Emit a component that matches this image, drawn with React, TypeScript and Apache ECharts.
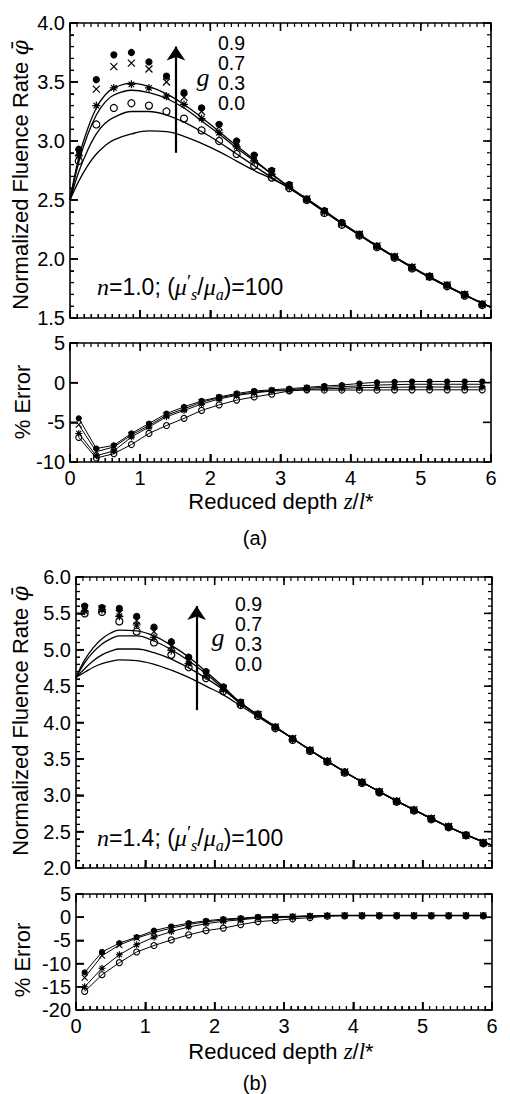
import React, { useEffect, useRef } from "react";
import * as echarts from "echarts";

// ---------- data ----------
const zMC = [0.125, 0.375, 0.625, 0.875, 1.125, 1.375, 1.625, 1.875, 2.125, 2.375, 2.625, 2.875,
  3.125, 3.375, 3.625, 3.875, 4.125, 4.375, 4.625, 4.875, 5.125, 5.375, 5.625, 5.875];
const zLine = [0, 0.125, 0.25, 0.375, 0.5, 0.625, 0.875, 1.125, 1.375, 1.625, 1.875, 2.125, 2.375,
  2.625, 2.875, 3.125, 3.5, 4, 4.5, 5, 5.5, 6];
const gLabels = ["0.9", "0.7", "0.3", "0.0"];

// panel (a): n = 1.0
const aLine09 = [2.5, 2.86, 3.10, 3.28, 3.39, 3.45, 3.49, 3.46, 3.40, 3.31, 3.20, 3.08, 2.96, 2.84, 2.72, 2.61, 2.46, 2.255, 2.065, 1.89, 1.735, 1.59];
const aLine07 = [2.5, 2.82, 3.05, 3.22, 3.33, 3.39, 3.43, 3.41, 3.36, 3.28, 3.17, 3.06, 2.94, 2.83, 2.72, 2.61, 2.46, 2.255, 2.065, 1.89, 1.735, 1.59];
const aLine03 = [2.5, 2.74, 2.92, 3.06, 3.15, 3.20, 3.25, 3.25, 3.22, 3.16, 3.08, 2.99, 2.89, 2.79, 2.69, 2.60, 2.455, 2.25, 2.06, 1.885, 1.73, 1.59];
const aLine00 = [2.5, 2.66, 2.79, 2.89, 2.96, 3.01, 3.06, 3.085, 3.08, 3.04, 2.98, 2.91, 2.83, 2.75, 2.68, 2.60, 2.45, 2.25, 2.06, 1.885, 1.73, 1.59];

const aMC09 = [2.93, 3.52, 3.73, 3.75, 3.67, 3.55, 3.41, 3.28, 3.14, 3.00, 2.88, 2.75, 2.63, 2.51, 2.41, 2.31, 2.21, 2.11, 2.02, 1.93, 1.855, 1.78, 1.70, 1.62];
const aMC07 = [2.90, 3.44, 3.63, 3.66, 3.61, 3.50, 3.37, 3.25, 3.12, 2.98, 2.86, 2.74, 2.62, 2.51, 2.40, 2.30, 2.21, 2.11, 2.02, 1.93, 1.85, 1.78, 1.70, 1.62];
const aMC03 = [2.88, 3.30, 3.45, 3.48, 3.45, 3.38, 3.31, 3.19, 3.07, 2.95, 2.83, 2.72, 2.61, 2.50, 2.40, 2.30, 2.20, 2.11, 2.02, 1.93, 1.85, 1.77, 1.70, 1.61];
const aMC00 = [2.83, 3.14, 3.28, 3.32, 3.30, 3.25, 3.19, 3.09, 3.00, 2.89, 2.79, 2.69, 2.60, 2.50, 2.39, 2.29, 2.20, 2.10, 2.01, 1.92, 1.85, 1.77, 1.69, 1.61];

const aErr09 = [-4.5, -8.3, -7.9, -6.4, -5.15, -3.9, -3.05, -2.3, -1.8, -1.36, -1.05, -0.9, -0.75, -0.6, -0.42, -0.3, -0.1, 0.05, 0.1, 0.15, 0.15, 0.15, 0.15, 0.15];
const aErr07 = [-5.3, -8.7, -8.1, -6.6, -5.4, -4.1, -3.3, -2.45, -1.9, -1.5, -1.2, -1.0, -0.9, -0.7, -0.6, -0.5, -0.4, -0.3, -0.25, -0.2, -0.2, -0.2, -0.2, -0.2];
const aErr03 = [-6.4, -9.2, -8.6, -6.85, -5.6, -4.3, -3.5, -2.7, -2.05, -1.6, -1.3, -1.05, -1.0, -0.85, -0.77, -0.72, -0.62, -0.6, -0.58, -0.55, -0.55, -0.55, -0.55, -0.55];
const aErr00 = [-6.9, -9.5, -8.95, -7.8, -6.4, -5.4, -4.5, -3.5, -2.8, -2.2, -1.8, -1.45, -1.05, -0.9, -0.93, -0.93, -0.93, -0.93, -0.9, -0.9, -0.9, -0.9, -0.9, -0.9];

// panel (b): n = 1.4
const bLine09 = [4.62, 4.86, 5.03, 5.15, 5.23, 5.27, 5.26, 5.19, 5.06, 4.90, 4.70, 4.49, 4.27, 4.10, 3.94, 3.78, 3.545, 3.25, 2.985, 2.74, 2.51, 2.31];
const bLine07 = [4.62, 4.82, 4.97, 5.08, 5.15, 5.19, 5.19, 5.12, 5.00, 4.85, 4.67, 4.47, 4.27, 4.10, 3.94, 3.78, 3.545, 3.25, 2.985, 2.74, 2.51, 2.31];
const bLine03 = [4.62, 4.74, 4.85, 4.93, 4.98, 5.01, 5.01, 4.96, 4.87, 4.75, 4.61, 4.45, 4.26, 4.10, 3.94, 3.78, 3.545, 3.25, 2.985, 2.74, 2.51, 2.31];
const bLine00 = [4.62, 4.69, 4.76, 4.81, 4.84, 4.86, 4.85, 4.80, 4.72, 4.62, 4.50, 4.38, 4.23, 4.08, 3.93, 3.78, 3.545, 3.25, 2.985, 2.74, 2.51, 2.31];

const bMC09 = [5.60, 5.58, 5.57, 5.46, 5.31, 5.11, 4.90, 4.70, 4.49, 4.28, 4.12, 3.94, 3.78, 3.62, 3.47, 3.32, 3.18, 3.05, 2.92, 2.80, 2.68, 2.57, 2.45, 2.35];
const bMC07 = [5.57, 5.56, 5.50, 5.40, 5.25, 5.05, 4.85, 4.67, 4.47, 4.27, 4.11, 3.94, 3.78, 3.62, 3.47, 3.32, 3.18, 3.05, 2.92, 2.80, 2.68, 2.57, 2.45, 2.35];
const bMC03 = [5.53, 5.55, 5.46, 5.34, 5.17, 4.99, 4.81, 4.64, 4.45, 4.25, 4.10, 3.93, 3.77, 3.62, 3.47, 3.32, 3.18, 3.05, 2.92, 2.80, 2.68, 2.57, 2.45, 2.35];
const bMC00 = [5.50, 5.52, 5.39, 5.25, 5.10, 4.93, 4.76, 4.61, 4.43, 4.24, 4.09, 3.92, 3.76, 3.61, 3.46, 3.31, 3.17, 3.04, 2.91, 2.79, 2.67, 2.56, 2.45, 2.34];

const bErr09 = [-11.9, -7.5, -5.6, -4.3, -2.9, -2.0, -1.27, -0.77, -0.4, -0.2, 0.07, 0.15, 0.2, 0.3, 0.4, 0.4, 0.4, 0.4, 0.4, 0.4, 0.4, 0.4, 0.4, 0.4];
const bErr07 = [-13.0, -8.3, -6.0, -4.5, -3.3, -2.35, -1.55, -1.0, -0.6, -0.35, -0.07, 0.05, 0.1, 0.25, 0.35, 0.4, 0.4, 0.4, 0.4, 0.4, 0.4, 0.4, 0.4, 0.4];
const bErr03 = [-15.0, -11.0, -8.1, -5.95, -4.3, -3.1, -2.1, -1.4, -0.9, -0.55, -0.2, -0.1, 0.0, 0.2, 0.3, 0.35, 0.35, 0.35, 0.35, 0.35, 0.35, 0.35, 0.35, 0.35];
const bErr00 = [-16.0, -12.4, -9.8, -7.5, -6.1, -4.9, -3.8, -2.9, -2.35, -1.6, -0.95, -0.7, -0.35, -0.1, 0.2, 0.3, 0.3, 0.3, 0.3, 0.3, 0.3, 0.3, 0.3, 0.3];

// arrow annotations (data coordinates): [z, bottom, top]
const aArrow = [1.51, 2.9, 3.8];
const bArrow = [1.74, 4.17, 5.6];

// axis ranges per panel: [xmin, xmax, xStep, xMinorStep, ymin, ymax, yStep, yMinorStep(0 = none)]
const axisSpecs = [
  [0, 6, 1, 0.1, 1.5, 4.0, 0.5, 0.1],
  [0, 6, 1, 0.1, -10, 5, 5, 0],
  [0, 6, 1, 0.1, 2.0, 6.0, 0.5, 0.1],
  [0, 6, 1, 0.1, -20, 5, 5, 0],
];

// ---------- styling ----------
const FONT = '"Liberation Sans", Arial, sans-serif';
const SERIF = '"Liberation Serif", "DejaVu Serif", serif';
const SYM_X = "path://M0,0L10,10M10,0L0,10";
const SYM_STAR = "path://M5,0L5,10M0,5L10,5M1.5,1.5L8.5,8.5M8.5,1.5L1.5,8.5";
const symbols = ["circle", SYM_X, SYM_STAR, "circle"];
const symSizes = [6, 7, 8, 7];
const symFill = ["#000", "#000", "#000", "rgba(0,0,0,0)"];

const grids = [
  { left: 70, top: 23, width: 421, height: 295 },
  { left: 70, top: 343, width: 421, height: 119 },
  { left: 76, top: 577, width: 416, height: 291 },
  { left: 76, top: 894, width: 416, height: 116 },
].map((g) => ({ ...g, show: true, borderColor: "#000", borderWidth: 1.6, backgroundColor: "rgba(0,0,0,0)" }));

const pairs = (xs: number[], ys: number[]) => ys.map((y, i) => [xs[i], y]);

function stepValues(min: number, max: number, step: number) {
  const n = Math.round((max - min) / step);
  const out: number[] = [];
  for (let k = 0; k <= n; k++) out.push(min + k * step);
  return out;
}

function xAxisFor(gi: number, labels: boolean) {
  const s = axisSpecs[gi];
  return {
    type: "value",
    gridIndex: gi,
    min: s[0],
    max: s[1],
    interval: s[2],
    axisLine: { show: false, onZero: false },
    axisTick: { show: true, inside: true, length: 8, lineStyle: { color: "#000", width: 1.5 } },
    minorTick: { show: true, splitNumber: 10, length: 4, lineStyle: { color: "#000", width: 1.1 } },
    splitLine: { show: false },
    minorSplitLine: { show: false },
    axisLabel: { show: labels, fontSize: 20, color: "#000", fontFamily: FONT, margin: 6 },
  };
}

function yAxisFor(gi: number, dec: number) {
  const s = axisSpecs[gi];
  return {
    type: "value",
    gridIndex: gi,
    min: s[4],
    max: s[5],
    interval: s[6],
    axisLine: { show: false, onZero: false },
    axisTick: { show: true, inside: true, length: 8, lineStyle: { color: "#000", width: 1.5 } },
    minorTick: { show: s[7] > 0, splitNumber: 5, length: 4, lineStyle: { color: "#000", width: 1.1 } },
    splitLine: { show: false },
    minorSplitLine: { show: false },
    axisLabel: {
      show: true,
      fontSize: 20,
      color: "#000",
      fontFamily: FONT,
      margin: 5,
      formatter: (v: number) => v.toFixed(dec),
    },
  };
}

// inside tick marks on all four edges, as small rect symbols placed by the axes' own scales
function tickSeries(gi: number) {
  const s = axisSpecs[gi];
  const items: any[] = [];
  const add = (x: number, y: number, size: number[], off: number[]) =>
    items.push({ value: [x, y], symbolSize: size, symbolOffset: off });
  stepValues(s[0], s[1], s[3]).forEach((v) => {
    add(v, s[4], [1.2, 4], [0, -2]);
    add(v, s[5], [1.2, 4], [0, 2]);
  });
  stepValues(s[0], s[1], s[2]).forEach((v) => {
    add(v, s[4], [1.6, 8], [0, -4]);
    add(v, s[5], [1.6, 8], [0, 4]);
  });
  if (s[7] > 0) {
    stepValues(s[4], s[5], s[7]).forEach((v) => {
      add(s[0], v, [4, 1.2], [2, 0]);
      add(s[1], v, [4, 1.2], [-2, 0]);
    });
  }
  stepValues(s[4], s[5], s[6]).forEach((v) => {
    add(s[0], v, [8, 1.6], [4, 0]);
    add(s[1], v, [8, 1.6], [-4, 0]);
  });
  return {
    type: "scatter",
    xAxisIndex: gi,
    yAxisIndex: gi,
    silent: true,
    clip: false,
    z: 4,
    symbol: "rect",
    itemStyle: { color: "#000", opacity: 1 },
    emphasis: { disabled: true },
    data: items,
  };
}

function mainSeries(p: number, lines: number[][], mcs: number[][], arrow: number[]) {
  const out: any[] = [];
  lines.forEach((ys, i) => {
    out.push({
      type: "line",
      xAxisIndex: p,
      yAxisIndex: p,
      data: pairs(zLine, ys),
      smooth: 0.4,
      showSymbol: false,
      lineStyle: { color: "#000", width: 1.3 },
      z: 2,
      markLine:
        i === 0
          ? {
              silent: true,
              symbol: ["none", "arrow"],
              symbolSize: 14,
              label: { show: false },
              lineStyle: { color: "#000", width: 2.2, type: "solid" },
              data: [[{ coord: [arrow[0], arrow[1]] }, { coord: [arrow[0], arrow[2]] }]],
            }
          : undefined,
    });
  });
  mcs.forEach((ys, i) => {
    out.push({
      type: "scatter",
      xAxisIndex: p,
      yAxisIndex: p,
      data: pairs(zMC, ys),
      symbol: symbols[i],
      symbolSize: symSizes[i],
      itemStyle: { color: symFill[i], borderColor: "#000", borderWidth: 1.2, opacity: 1 },
      z: 3,
    });
  });
  return out;
}

function errSeries(p: number, errs: number[][]) {
  return errs.map((ys, i) => ({
    type: "line",
    xAxisIndex: p,
    yAxisIndex: p,
    data: pairs(zMC, ys),
    symbol: symbols[i],
    symbolSize: symSizes[i] - 1,
    showSymbol: true,
    lineStyle: { color: "#000", width: 1 },
    itemStyle: { color: symFill[i], borderColor: "#000", borderWidth: 1.1 },
  }));
}

const txt = (x: number, y: number, text: string, extra: any = {}) => ({
  type: "text",
  x,
  y,
  silent: true,
  ...extra,
  style: {
    text,
    fill: "#000",
    fontFamily: FONT,
    fontSize: 21,
    align: "left",
    verticalAlign: "middle",
    ...(extra.style || {}),
  },
});

const richMath = {
  i: { fontFamily: SERIF, fontStyle: "italic", fontSize: 24, lineHeight: 30 },
  sub: { fontFamily: SERIF, fontStyle: "italic", fontSize: 16, verticalAlign: "bottom", lineHeight: 15 },
  sup: { fontFamily: SERIF, fontSize: 19, verticalAlign: "top", lineHeight: 18 },
  r: { fontFamily: FONT, fontSize: 23, lineHeight: 30 },
  phi: { fontFamily: '"DejaVu Serif", serif', fontStyle: "italic", fontSize: 22, lineHeight: 28 },
};

function annotations(
  yTitleY: number,
  errTitleY: number,
  xTitleY: number,
  capY: number,
  cap: string,
  legX: number,
  legY0: number,
  gX: number,
  gY: number,
  nX: number,
  nY: number,
  nVal: string
) {
  const g: any[] = [];
  g.push(
    txt(20, yTitleY, "{r|Normalized Fluence Rate }{phi|\u03C6\u0304}", {
      rotation: Math.PI / 2,
      style: { align: "center", rich: { ...richMath, r: { fontFamily: FONT, fontSize: 22, lineHeight: 28 } } },
    })
  );
  g.push(
    txt(22, errTitleY, "% Error", {
      rotation: Math.PI / 2,
      style: { align: "center", fontSize: 22 },
    })
  );
  g.push(
    txt(281, xTitleY, "{r|Reduced depth }{i|z}{r|/}{i|l}{r|*}", {
      style: {
        align: "center",
        rich: {
          ...richMath,
          r: { fontFamily: FONT, fontSize: 22, lineHeight: 22 },
          i: { fontFamily: SERIF, fontStyle: "italic", fontSize: 23, lineHeight: 22 },
        },
      },
    })
  );
  g.push(txt(255, capY, cap, { style: { align: "center", fontSize: 20 } }));
  gLabels.forEach((l, i) =>
    g.push(txt(legX, legY0 + i * 20, l, { style: { fontSize: 19.5, lineHeight: 18 } }))
  );
  g.push(
    txt(gX, gY, "g", {
      style: { align: "center", fontFamily: SERIF, fontStyle: "italic", fontSize: 26 },
    })
  );
  g.push(
    txt(nX, nY, `{i|n}{r|=${nVal}; (}{i|\u03BC}{sup|\u2032}{sub|s}{r|/}{i|\u03BC}{sub|a}{r|)=100}`, {
      style: { rich: richMath },
    })
  );
  return g;
}

export default function App() {
  const ref = useRef<HTMLDivElement>(null);
  useEffect(() => {
    if (!ref.current) return;
    const chart = echarts.init(ref.current, undefined, { renderer: "svg" });
    const option: any = {
      animation: false,
      backgroundColor: "#fff",
      grid: grids,
      xAxis: [xAxisFor(0, false), xAxisFor(1, true), xAxisFor(2, false), xAxisFor(3, true)],
      yAxis: [yAxisFor(0, 1), yAxisFor(1, 0), yAxisFor(2, 1), yAxisFor(3, 0)],
      series: [
        ...mainSeries(0, [aLine09, aLine07, aLine03, aLine00], [aMC09, aMC07, aMC03, aMC00], aArrow),
        ...errSeries(1, [aErr09, aErr07, aErr03, aErr00]),
        ...mainSeries(2, [bLine09, bLine07, bLine03, bLine00], [bMC09, bMC07, bMC03, bMC00], bArrow),
        ...errSeries(3, [bErr09, bErr07, bErr03, bErr00]),
        tickSeries(0),
        tickSeries(1),
        tickSeries(2),
        tickSeries(3),
      ],
      graphic: [
        ...annotations(175, 402, 501, 538, "(a)", 218, 43, 203, 77, 97, 287, "1.0"),
        ...annotations(721, 960, 1051, 1083, "(b)", 235, 604, 218, 637, 97, 838, "1.4"),
      ],
    };
    chart.setOption(option);
    return () => chart.dispose();
  }, []);
  return (
    <div
      ref={ref}
      style={{ position: "absolute", left: 0, top: 0, width: 510, height: 1094, background: "#fff" }}
    />
  );
}
